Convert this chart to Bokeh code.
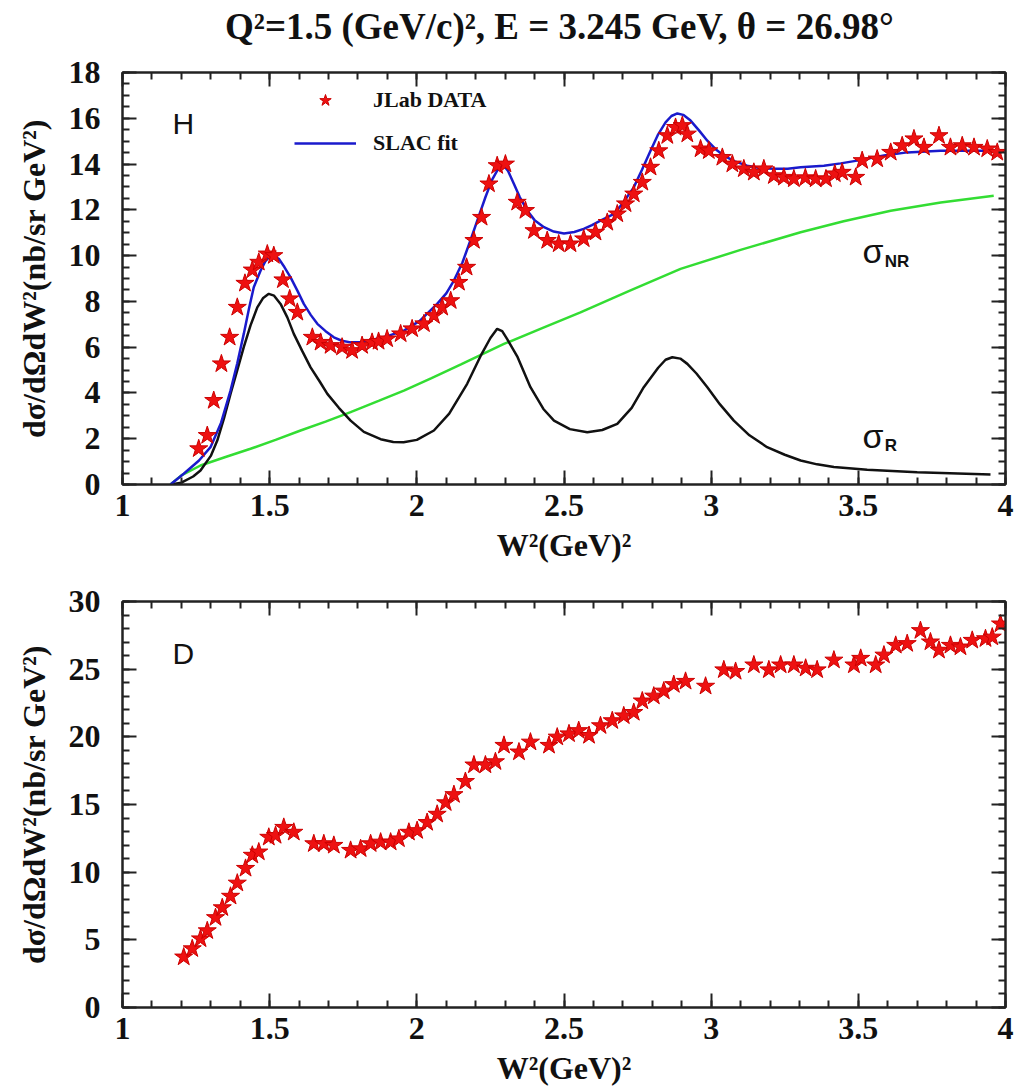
from bokeh.plotting import figure
from bokeh.layouts import column
from bokeh.models import (LinearAxis, Legend, LegendItem, CustomJSTickFormatter,
                          Range1d, SingleIntervalTicker, Label)
from bokeh.embed import file_html
from bokeh.resources import INLINE

# ---------------- data ----------------
# Hydrogen: JLab data
h_w2 = [1.259, 1.288, 1.310, 1.336, 1.364, 1.390, 1.416, 1.441, 1.463, 1.492, 1.514,
        1.545, 1.568, 1.594, 1.645, 1.673, 1.707, 1.746, 1.780, 1.814, 1.848, 1.870,
        1.899, 1.945, 1.984, 2.024, 2.058, 2.086, 2.115, 2.143, 2.169, 2.194, 2.220,
        2.245, 2.273, 2.301, 2.341, 2.369, 2.398, 2.443, 2.482, 2.522, 2.567, 2.607,
        2.647, 2.681, 2.709, 2.737, 2.766, 2.794, 2.822, 2.851, 2.879, 2.902, 2.919,
        2.964, 2.992, 3.038, 3.072, 3.111, 3.145, 3.179, 3.213, 3.247, 3.281, 3.320,
        3.355, 3.390, 3.420, 3.445, 3.491, 3.513, 3.564, 3.610, 3.649, 3.689, 3.723,
        3.774, 3.813, 3.853, 3.893, 3.938, 3.972]
h_xs = [1.56, 2.14, 3.67, 5.27, 6.43, 7.74, 8.79, 9.37, 9.71, 10.07, 10.00,
        8.94, 8.11, 7.52, 6.43, 6.21, 6.07, 6.00, 5.85, 6.07, 6.21, 6.25,
        6.36, 6.58, 6.80, 7.02, 7.38, 7.74, 8.03, 8.83, 9.49, 10.66, 11.67,
        13.13, 13.93, 14.00, 12.33, 11.97, 11.09, 10.66, 10.51, 10.51, 10.73, 11.02,
        11.45, 11.82, 12.26, 12.69, 13.20, 13.86, 14.58, 15.24, 15.60, 15.68, 15.31,
        14.66, 14.58, 14.29, 14.00, 13.79, 13.64, 13.79, 13.49, 13.42, 13.35, 13.40,
        13.35, 13.35, 13.57, 13.64, 13.42, 14.15, 14.22, 14.51, 14.80, 15.10, 14.73,
        15.24, 14.73, 14.80, 14.73, 14.66, 14.51]

# SLAC fit (blue)
fit_w2 = [1.163, 1.208, 1.260, 1.299, 1.335, 1.367, 1.390, 1.412, 1.430, 1.446, 1.469,
          1.485, 1.500, 1.515, 1.531, 1.550, 1.571, 1.595, 1.616, 1.640, 1.662, 1.690,
          1.718, 1.745, 1.775, 1.810, 1.843, 1.900, 1.956, 2.010, 2.069, 2.100, 2.126,
          2.155, 2.182, 2.210, 2.233, 2.255, 2.273, 2.285, 2.296, 2.310, 2.330, 2.350,
          2.375, 2.400, 2.432, 2.465, 2.500, 2.535, 2.567, 2.595, 2.624, 2.670, 2.700,
          2.737, 2.765, 2.794, 2.820, 2.845, 2.865, 2.885, 2.905, 2.930, 2.960, 2.987,
          3.015, 3.043, 3.080, 3.122, 3.170, 3.213, 3.260, 3.304, 3.383, 3.440, 3.496,
          3.587, 3.666, 3.779, 3.950]
fit_xs = [0.00, 0.47, 1.05, 1.63, 2.70, 4.10, 5.30, 6.58, 7.70, 8.62, 9.34,
          9.75, 9.95, 9.98, 9.86, 9.50, 9.05, 8.45, 7.89, 7.40, 7.02, 6.70,
          6.43, 6.28, 6.21, 6.22, 6.30, 6.48, 6.72, 7.15, 7.89, 8.35, 8.91,
          9.70, 10.66, 11.70, 12.55, 13.30, 13.71, 13.90, 13.93, 13.70, 13.13, 12.55,
          11.97, 11.55, 11.24, 11.05, 10.97, 11.03, 11.17, 11.33, 11.53, 11.82, 12.30,
          12.98, 13.75, 14.58, 15.30, 15.82, 16.10, 16.21, 16.15, 15.90, 15.45, 15.02,
          14.65, 14.37, 14.12, 13.93, 13.82, 13.79, 13.80, 13.86, 13.93, 14.03, 14.15,
          14.37, 14.51, 14.58, 14.58]

# sigma_R (black)
res_w2 = [1.163, 1.200, 1.240, 1.265, 1.300, 1.322, 1.345, 1.367, 1.390, 1.412, 1.435,
          1.458, 1.478, 1.497, 1.515, 1.537, 1.560, 1.582, 1.610, 1.639, 1.670, 1.696,
          1.735, 1.775, 1.820, 1.877, 1.920, 1.955, 2.000, 2.058, 2.110, 2.171, 2.220,
          2.250, 2.273, 2.290, 2.307, 2.341, 2.386, 2.430, 2.466, 2.520, 2.579, 2.630,
          2.681, 2.730, 2.771, 2.820, 2.845, 2.868, 2.895, 2.919, 2.950, 2.987, 3.030,
          3.077, 3.130, 3.190, 3.250, 3.304, 3.360, 3.417, 3.530, 3.700, 3.949]
res_xs = [0.00, 0.08, 0.35, 0.61, 1.25, 1.92, 2.90, 3.96, 5.00, 6.00, 6.95,
          7.74, 8.15, 8.33, 8.25, 7.89, 7.30, 6.58, 5.85, 5.12, 4.50, 3.96,
          3.35, 2.79, 2.30, 1.98, 1.86, 1.85, 1.95, 2.36, 3.10, 4.40, 5.70,
          6.40, 6.80, 6.70, 6.35, 5.60, 4.25, 3.30, 2.79, 2.42, 2.28, 2.38,
          2.65, 3.35, 4.25, 5.10, 5.45, 5.56, 5.50, 5.27, 4.85, 4.25, 3.50,
          2.79, 2.15, 1.63, 1.30, 1.05, 0.88, 0.76, 0.64, 0.54, 0.44]

# sigma_NR (green)
nr_w2 = [1.163, 1.200, 1.265, 1.350, 1.435, 1.520, 1.605, 1.690, 1.775, 1.870, 1.956,
         2.050, 2.150, 2.296, 2.430, 2.556, 2.720, 2.896, 3.100, 3.304, 3.450, 3.610,
         3.780, 3.960]
nr_xs = [0.00, 0.40, 0.83, 1.20, 1.56, 1.95, 2.36, 2.75, 3.16, 3.65, 4.10,
         4.65, 5.25, 6.14, 6.85, 7.52, 8.45, 9.42, 10.25, 11.02, 11.50, 11.96,
         12.32, 12.62]

# Deuterium: JLab data
d_w2 = [1.208, 1.237, 1.265, 1.288, 1.316, 1.339, 1.367, 1.390, 1.418, 1.441, 1.463,
        1.497, 1.520, 1.548, 1.582, 1.650, 1.684, 1.718, 1.775, 1.809, 1.843, 1.877,
        1.911, 1.939, 1.973, 2.001, 2.035, 2.069, 2.098, 2.126, 2.165, 2.194, 2.233,
        2.267, 2.296, 2.347, 2.386, 2.449, 2.477, 2.517, 2.550, 2.585, 2.624, 2.664,
        2.703, 2.737, 2.766, 2.805, 2.839, 2.873, 2.913, 2.981, 3.043, 3.083, 3.145,
        3.196, 3.236, 3.281, 3.321, 3.360, 3.417, 3.485, 3.508, 3.559, 3.587, 3.627,
        3.666, 3.711, 3.745, 3.774, 3.813, 3.847, 3.887, 3.932, 3.955, 3.983]
d_xs = [3.73, 4.34, 5.07, 5.67, 6.64, 7.37, 8.22, 9.19, 10.28, 11.25, 11.49,
        12.58, 12.71, 13.31, 12.95, 12.10, 12.10, 11.98, 11.61, 11.73, 12.10, 12.22,
        12.22, 12.46, 12.95, 13.07, 13.67, 14.28, 15.13, 15.73, 16.70, 17.92, 17.92,
        18.16, 19.37, 18.88, 19.61, 19.37, 19.98, 20.22, 20.46, 20.10, 20.82, 21.19,
        21.55, 21.80, 22.65, 23.01, 23.38, 23.86, 24.10, 23.74, 24.95, 24.83, 25.31,
        24.95, 25.31, 25.31, 25.07, 24.95, 25.67, 25.31, 25.80, 25.31, 26.04, 26.76,
        26.89, 27.85, 27.01, 26.40, 26.76, 26.64, 27.13, 27.25, 27.37, 28.34]

TITLE = "Q\u00b2=1.5 (GeV/c)\u00b2,  E = 3.245 GeV, \u03b8 = 26.98\u00b0"
YLABEL = "d\u03c3/d\u03a9dW\u00b2(nb/sr GeV\u00b2)"
XLABEL = "W\u00b2(GeV)\u00b2"

SERIF = "Liberation Serif"
SANS = "Liberation Sans"
AXC = "#222222"
STAR_FILL = "#ee1111"
STAR_LINE = "#cc0000"


def style_axis(ax, labels=True, standoff=12):
    ax.axis_line_width = 2
    ax.axis_line_color = AXC
    ax.major_tick_in = 14
    ax.major_tick_out = 0
    ax.minor_tick_in = 7
    ax.minor_tick_out = 0
    ax.major_tick_line_width = 2
    ax.minor_tick_line_width = 2
    ax.major_tick_line_color = AXC
    ax.minor_tick_line_color = AXC
    if labels:
        ax.formatter = CustomJSTickFormatter(code="return String(tick)")
        ax.major_label_text_font = SERIF
        ax.major_label_text_font_style = "bold"
        ax.major_label_text_font_size = "32px"
        ax.major_label_text_color = "#111111"
        ax.major_label_standoff = standoff
        ax.axis_label_text_font = SERIF
        ax.axis_label_text_font_style = "bold"
        ax.axis_label_text_font_size = "32px"
        ax.axis_label_text_color = "#111111"
    else:
        ax.formatter = CustomJSTickFormatter(code="return ''")
        ax.major_label_text_font_size = "1px"
        ax.major_label_standoff = 0


def make_fig(height, ymax, yint, yminor, top_b, bot_b):
    p = figure(width=1027, height=height, x_range=Range1d(1, 4), y_range=Range1d(0, ymax),
               output_backend="svg", toolbar_location=None,
               min_border_left=122, min_border_right=22,
               min_border_top=top_b, min_border_bottom=bot_b)
    p.grid.visible = False
    p.outline_line_color = AXC
    p.outline_line_width = 2
    p.background_fill_color = "white"
    p.border_fill_color = "white"
    xt = SingleIntervalTicker(interval=0.5, num_minor_ticks=5)
    yt = SingleIntervalTicker(interval=yint, num_minor_ticks=yminor)
    p.xaxis.ticker = xt
    p.yaxis.ticker = yt
    style_axis(p.xaxis[0], True, 10)
    style_axis(p.yaxis[0], True, 22)
    p.xaxis[0].axis_label = XLABEL
    p.xaxis[0].axis_label_standoff = 8
    p.yaxis[0].axis_label = YLABEL
    p.yaxis[0].axis_label_standoff = 14
    top = LinearAxis(ticker=xt)
    right = LinearAxis(ticker=yt)
    style_axis(top, False)
    style_axis(right, False)
    p.add_layout(top, "above")
    p.add_layout(right, "right")
    return p


# ---------------- title strip (frame aligned with the panels below) ----------------
pt = figure(width=1027, height=52, x_range=Range1d(1, 4), y_range=Range1d(0, 52),
            output_backend="svg", toolbar_location=None, min_border=0,
            x_axis_location=None, y_axis_location=None)
pt.grid.visible = False
pt.outline_line_color = None
pt.border_fill_color = "white"
pt.background_fill_color = "white"
pt.add_layout(Label(x=2.5, y=26, text=TITLE, text_align="center",
                    text_baseline="middle", text_font=SERIF, text_font_style="bold",
                    text_font_size="37px", text_color="#111111"))

# ---------------- top panel (H) ----------------
p1 = make_fig(518, 18, 2, 4, 20, 86)

r_nr = p1.line(nr_w2, nr_xs, line_color="#33dd33", line_width=2.5)
r_res = p1.line(res_w2, res_xs, line_color="#111111", line_width=2.5)
r_fit = p1.line(fit_w2, fit_xs, line_color="#1a1acc", line_width=2.5)
r_h = p1.scatter(h_w2, h_xs, marker="star", size=19, fill_color=STAR_FILL,
                 line_color=STAR_LINE, line_width=1)

leg = Legend(items=[LegendItem(label="JLab DATA", renderers=[r_h]),
                    LegendItem(label="SLAC fit", renderers=[r_fit])],
             location=(172, 326), orientation="vertical",
             border_line_color=None, background_fill_alpha=0,
             label_text_font=SERIF, label_text_font_style="bold",
             label_text_font_size="22px", label_text_color="#111111",
             glyph_width=62, glyph_height=30, label_height=30,
             spacing=13, padding=0, margin=0, label_standoff=17)
p1.add_layout(leg)

p1.add_layout(Label(x=1.17, y=15.79, text="H", text_font=SANS, text_font_size="30px",
                    text_baseline="middle", text_color="#111111"))
p1.add_layout(Label(x=3.514, y=10.22, text="\u03c3", text_font=SANS, text_font_size="34px",
                    text_baseline="middle", text_color="#111111"))
p1.add_layout(Label(x=3.59, y=9.75, text="NR", text_font=SANS, text_font_style="bold",
                    text_font_size="17px", text_baseline="middle", text_color="#111111"))
p1.add_layout(Label(x=3.514, y=2.12, text="\u03c3", text_font=SANS, text_font_size="34px",
                    text_baseline="middle", text_color="#111111"))
p1.add_layout(Label(x=3.59, y=1.7, text="R", text_font=SANS, text_font_style="bold",
                    text_font_size="17px", text_baseline="middle", text_color="#111111"))

# ---------------- bottom panel (D) ----------------
p2 = make_fig(518, 30, 5, 5, 31, 75)
p2.scatter(d_w2, d_xs, marker="star", size=19, fill_color=STAR_FILL,
           line_color=STAR_LINE, line_width=1)
p2.add_layout(Label(x=1.17, y=26.18, text="D", text_font=SANS, text_font_size="30px",
                    text_baseline="middle", text_color="#111111"))

layout = column(pt, p1, p2, spacing=0)
open("out.html", "w").write(file_html(layout, INLINE))
